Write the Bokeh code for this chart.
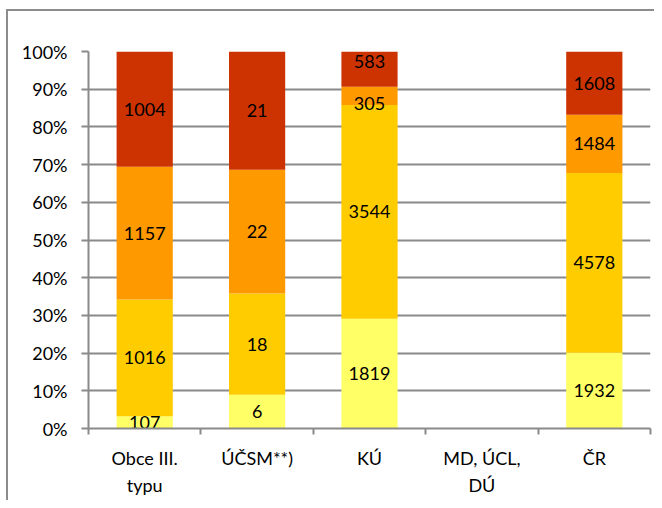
from bokeh.plotting import figure
from bokeh.models import FixedTicker, NumeralTickFormatter, Range1d
from bokeh.embed import file_html
from bokeh.resources import INLINE
from bokeh.core.properties import value

# ---- data ----
categories = ["Obce III.\ntypu", "ÚČSM**)", "KÚ", "MD, ÚCL,\nDÚ", "ČR"]
s1 = [107, 6, 1819, 0, 1932]
s2 = [1016, 18, 3544, 0, 4578]
s3 = [1157, 22, 305, 0, 1484]
s4 = [1004, 21, 583, 0, 1608]
series = [s1, s2, s3, s4]
colors = ["#FFFF66", "#FFCC00", "#FF9900", "#CC3300"]
y_ticks = [0.0, 0.1, 0.2, 0.3, 0.4, 0.5, 0.6, 0.7, 0.8, 0.9, 1.0]

FONT = "Lato"
FS = "18px"
GRAY = "#8a8a8a"

W, H = 654, 500
ML, MT, MB, MR = 88, 51, 72, 4
frame_h = H - MT - MB

p = figure(width=W, height=H, output_backend="svg", toolbar_location=None,
           x_range=Range1d(0, len(categories)), y_range=Range1d(0, 1),
           min_border_left=ML, min_border_top=MT, min_border_bottom=MB,
           min_border_right=MR)
p.outline_line_color = None
p.border_fill_color = None
p.background_fill_color = "white"
p.styles = {"background-color": "white",
            "box-shadow": "inset 6px 9px 0 0 white, inset 8px 11px 0 0 #8c8c8c"}

n = len(categories)
totals = [sum(s[i] for s in series) for i in range(n)]
xs = [i + 0.5 for i in range(n)]

lab_x, lab_y, lab_t = [], [], []
bottoms = [0.0] * n
per_bar = [[] for _ in range(n)]
for s, c in zip(series, colors):
    fr = [(s[i] / totals[i]) if totals[i] else 0.0 for i in range(n)]
    tops = [bottoms[i] + fr[i] for i in range(n)]
    p.vbar(x=xs, bottom=list(bottoms), top=tops, width=0.5, fill_color=c, line_color=None)
    for i in range(n):
        if s[i] > 0:
            per_bar[i].append([(bottoms[i] + tops[i]) / 2, str(s[i])])
    bottoms = tops

# push apart labels that are too close (like Excel)
sep = 42.0 / frame_h
for i in range(n):
    labs = per_bar[i]
    for k in range(len(labs) - 1):
        if labs[k + 1][0] - labs[k][0] < sep:
            mid = (labs[k][0] + labs[k + 1][0]) / 2
            labs[k][0] = mid - sep / 2
            labs[k + 1][0] = mid + sep / 2
    for y, t in labs:
        lab_x.append(xs[i]); lab_y.append(y); lab_t.append(t)

p.text(x=lab_x, y=lab_y, text=lab_t, text_font=value(FONT), text_font_size=FS,
       text_align="center", text_baseline="middle", text_color="black")

# y axis
p.yaxis.ticker = FixedTicker(ticks=y_ticks)
p.yaxis.formatter = NumeralTickFormatter(format="0%")
p.yaxis.major_label_text_font = FONT
p.yaxis.major_label_text_font_size = FS
p.yaxis.major_label_text_color = "black"
p.yaxis.major_tick_out = 7
p.yaxis.major_tick_in = 0
p.yaxis.minor_tick_line_color = None
p.yaxis.axis_line_color = GRAY
p.yaxis.axis_line_width = 2
p.yaxis.major_tick_line_color = GRAY
p.yaxis.major_tick_line_width = 2
p.yaxis.major_label_standoff = 14

# x axis
p.xaxis.ticker = FixedTicker(ticks=xs, minor_ticks=list(range(n + 1)))
p.xaxis.major_label_overrides = {xs[i]: categories[i] for i in range(n)}
p.xaxis.major_label_text_font = FONT
p.xaxis.major_label_text_font_size = FS
p.xaxis.major_label_text_color = "black"
p.xaxis.major_label_text_line_height = 1.25
p.xaxis.major_tick_line_color = None
p.xaxis.minor_tick_out = 6
p.xaxis.minor_tick_in = 0
p.xaxis.minor_tick_line_color = GRAY
p.xaxis.minor_tick_line_width = 2
p.xaxis.axis_line_color = GRAY
p.xaxis.axis_line_width = 2
p.xaxis.major_label_standoff = 12

p.xgrid.grid_line_color = None
p.ygrid.ticker = FixedTicker(ticks=y_ticks)
p.ygrid.grid_line_color = GRAY
p.ygrid.grid_line_width = 2

open("out.html", "w").write(file_html(p, INLINE))
